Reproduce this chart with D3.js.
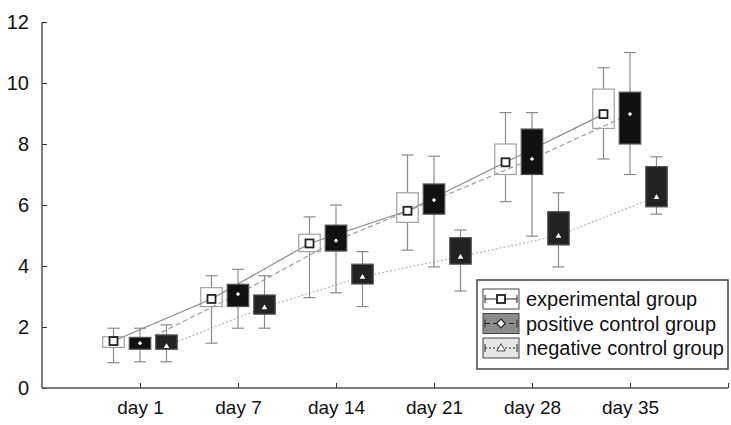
<!DOCTYPE html>
<html>
<head>
<meta charset="utf-8">
<script src="https://cdn.jsdelivr.net/npm/d3@7"></script>
<style>
  body { margin: 0; background: #fff; }
  text { font-family: "Liberation Sans", Arial, sans-serif; fill: #111; }
</style>
</head>
<body>
<svg id="chart" width="731" height="425"></svg>
<script>
const days = ["day 1", "day 7", "day 14", "day 21", "day 28", "day 35"];
const groupNames = ["experimental group", "positive control group", "negative control group"];
const yTicks = [0, 2, 4, 6, 8, 10, 12];

// experimental group: whisker low, q1, median, q3, whisker high
const expLow  = [0.83, 1.47, 2.96, 4.52, 6.11, 7.51];
const expQ1   = [1.33, 2.67, 4.47, 5.43, 7.00, 8.51];
const expMid  = [1.54, 2.92, 4.74, 5.81, 7.40, 8.98];
const expQ3   = [1.68, 3.29, 5.04, 6.40, 8.00, 9.80];
const expHigh = [1.96, 3.68, 5.61, 7.64, 9.03, 10.50];

// positive control group
const posLow  = [0.86, 1.96, 3.12, 3.97, 4.98, 7.00];
const posQ1   = [1.27, 2.67, 4.49, 5.70, 7.00, 8.00];
const posMid  = [1.47, 3.08, 4.83, 6.16, 7.51, 8.98];
const posQ3   = [1.66, 3.40, 5.34, 6.69, 8.49, 9.70];
const posHigh = [1.96, 3.89, 6.00, 7.60, 9.03, 11.00];

// negative control group
const negLow  = [0.86, 1.96, 2.67, 3.18, 3.97, 5.70];
const negQ1   = [1.27, 2.42, 3.41, 4.06, 4.69, 5.94];
const negMid  = [1.38, 2.65, 3.65, 4.31, 5.00, 6.27];
const negQ3   = [1.74, 3.05, 4.06, 4.93, 5.78, 7.26];
const negHigh = [2.07, 3.68, 4.47, 5.18, 6.40, 7.58];

const svg = d3.select("#chart");

const x = d3.scaleLinear().domain([0, days.length + 1]).range([42, 728]);
const y = d3.scaleLinear().domain([0, 12]).range([388, 22]);

const boxW = 21.5, capW = 12, offset = 26.5;

const groups = [
  { name: groupNames[0], dx: -offset, low: expLow, q1: expQ1, mid: expMid, q3: expQ3, high: expHigh,
    boxFill: "none", boxStroke: "#a0a0a0", line: "#8a8a8a", dash: null, marker: "square" },
  { name: groupNames[1], dx: 0, low: posLow, q1: posQ1, mid: posMid, q3: posQ3, high: posHigh,
    boxFill: "#111", boxStroke: "#555", line: "#9a9a9a", dash: "5,3", marker: "diamond" },
  { name: groupNames[2], dx: offset, low: negLow, q1: negQ1, mid: negMid, q3: negQ3, high: negHigh,
    boxFill: "#222", boxStroke: "#555", line: "#b5b5b5", dash: "2,2", marker: "triangle" }
];

function xPos(g, i) { return x(i + 1) + g.dx; }

// connecting lines (behind boxes)
groups.forEach(g => {
  const line = d3.line().x((d, i) => xPos(g, i)).y(d => y(d));
  svg.append("path")
    .attr("d", line(g.mid))
    .attr("fill", "none")
    .attr("stroke", g.line)
    .attr("stroke-width", 1.2)
    .attr("stroke-dasharray", g.dash);
});

function drawMarker(sel, type, cx, cy, scale) {
  scale = scale || 1;
  if (type === "square") {
    const s = 8 * scale;
    sel.append("rect").attr("x", cx - s / 2).attr("y", cy - s / 2).attr("width", s).attr("height", s)
      .attr("fill", "#fff").attr("stroke", "#222").attr("stroke-width", 1.8);
  } else if (type === "diamond") {
    sel.append("path").attr("d", d3.symbol(d3.symbolDiamond2, 12 * scale)())
      .attr("transform", `translate(${cx},${cy})`)
      .attr("fill", "#fff").attr("stroke", scale > 1 ? "#222" : "none").attr("stroke-width", 1.2);
  } else {
    sel.append("path").attr("d", d3.symbol(d3.symbolTriangle, 14 * scale)())
      .attr("transform", `translate(${cx},${cy + 0.5})`)
      .attr("fill", "#fff").attr("stroke", scale > 1 ? "#222" : "none").attr("stroke-width", 0.8);
  }
}

// boxes
groups.forEach(g => {
  const gg = svg.append("g");
  days.forEach((d, i) => {
    const cx = xPos(g, i);
    // whiskers
    gg.append("line").attr("x1", cx).attr("x2", cx).attr("y1", y(g.high[i])).attr("y2", y(g.q3[i]))
      .attr("stroke", "#8a8a8a").attr("stroke-width", 1.2);
    gg.append("line").attr("x1", cx).attr("x2", cx).attr("y1", y(g.q1[i])).attr("y2", y(g.low[i]))
      .attr("stroke", "#8a8a8a").attr("stroke-width", 1.2);
    [g.high[i], g.low[i]].forEach(v => {
      gg.append("line").attr("x1", cx - capW / 2).attr("x2", cx + capW / 2).attr("y1", y(v)).attr("y2", y(v))
        .attr("stroke", "#8a8a8a").attr("stroke-width", 1.2);
    });
    gg.append("rect")
      .attr("x", cx - boxW / 2).attr("y", y(g.q3[i]))
      .attr("width", boxW).attr("height", y(g.q1[i]) - y(g.q3[i]))
      .attr("fill", g.boxFill).attr("stroke", g.boxStroke).attr("stroke-width", 1.2);
    drawMarker(gg, g.marker, cx, y(g.mid[i]));
  });
});

// axes
const yAxis = d3.axisLeft(y).tickValues(yTicks).tickSize(-5).tickPadding(13);
const yg = svg.append("g").attr("transform", "translate(42,0)").call(yAxis);
yg.select(".domain").attr("d", `M0,${y(12)}V${y(0)}`);

const xAxis = d3.axisBottom(x).tickValues(d3.range(1, days.length + 2)).tickSize(-5).tickPadding(13)
  .tickFormat(d => days[d - 1] || "");
const xg = svg.append("g").attr("transform", "translate(0,388)").call(xAxis);
xg.select(".domain").attr("d", `M42,0H728`);

svg.selectAll(".domain").attr("stroke", "#555").attr("stroke-width", 1.5);
svg.selectAll(".tick line").attr("stroke", "#333").attr("stroke-width", 1);
yg.selectAll("text").attr("font-size", 20).attr("fill", "#111").attr("font-family", "Liberation Sans, Arial");
xg.selectAll("text").attr("font-size", 19).attr("fill", "#111").attr("font-family", "Liberation Sans, Arial")
  .attr("dy", "0.71em");

// legend
const legend = svg.append("g");
legend.append("rect").attr("x", 477).attr("y", 280).attr("width", 251).attr("height", 89)
  .attr("fill", "#fff").attr("stroke", "#444").attr("stroke-width", 1.5);
const sampleFill = ["#fff", "#8c8c8c", "#e6e6e6"];
const rowY = d3.scalePoint().domain(groupNames).range([299, 348]);
groups.forEach((g, k) => {
  const cy = rowY(g.name);
  const row = legend.append("g");
  row.append("rect").attr("x", 483).attr("y", cy - 10).attr("width", 36).attr("height", 20)
    .attr("fill", sampleFill[k]).attr("stroke", "#444").attr("stroke-width", 1);
  row.append("line").attr("x1", 485).attr("x2", 517).attr("y1", cy).attr("y2", cy)
    .attr("stroke", "#222").attr("stroke-width", 1).attr("stroke-dasharray", g.dash);
  [485, 517].forEach(xx => row.append("line").attr("x1", xx).attr("x2", xx).attr("y1", cy - 4).attr("y2", cy + 4)
    .attr("stroke", "#222").attr("stroke-width", 1));
  drawMarker(row, g.marker, 501, cy, k === 0 ? 1 : (k === 1 ? 4 : 2.2));
  row.append("text").attr("x", 526).attr("y", cy).attr("dy", "0.35em")
    .attr("font-size", 20).text(g.name);
});
</script>
</body>
</html>
